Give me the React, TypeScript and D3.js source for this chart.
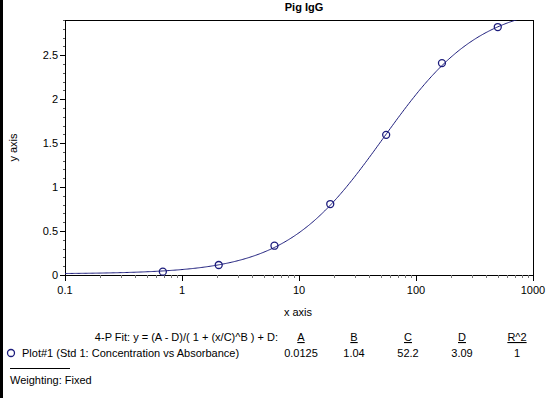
import React, { useEffect, useRef } from 'react'
import * as d3 from 'd3'

// standards (concentration, absorbance)
const concentrations = [0.686, 2.06, 6.17, 18.5, 55.6, 166.7, 500]
const absorbances = [0.038, 0.114, 0.333, 0.807, 1.594, 2.41, 2.82]

// 4-P fit parameters shown under the chart
const fitNames = ['A', 'B', 'C', 'D', 'R^2']
const fitLabels = ['0.0125', '1.04', '52.2', '3.09', '1']
const fitA = 0.0125
const fitB = 1.04
const fitC = 52.2
const fitD = 3.09

const xTicks = [0.1, 1, 10, 100, 1000]
const yTicks = [0, 0.5, 1, 1.5, 2, 2.5]

const W = 560
const H = 398
const margins = { left: 65, right: 27, top: 20, bottom: 123 }
const navy = '#1c1c7c'
const font = 'Arial, "Liberation Sans", sans-serif'

function fourPL(x: number) {
  return (fitA - fitD) / (1 + Math.pow(x / fitC, fitB)) + fitD
}

const App = () => {
  const ref = useRef<SVGSVGElement>(null)

  useEffect(() => {
    document.body.style.margin = '0'
    const svg = d3.select(ref.current)
    svg.selectAll('*').remove()

    const x0 = margins.left
    const x1 = W - margins.right
    const y0 = H - margins.bottom
    const y1 = margins.top

    const xScale = d3.scaleLog().domain([0.1, 1000]).range([x0, x1])
    const yScale = d3.scaleLinear().domain([0, 2.9]).range([y0, y1])

    // black strip at the left edge
    svg.append('rect').attr('x', 0).attr('y', 0).attr('width', 3).attr('height', H).attr('fill', '#000')

    svg.append('text')
      .attr('x', 304).attr('y', 11)
      .attr('text-anchor', 'middle')
      .style('font', `bold 11px ${font}`)
      .text('Pig IgG')

    // frame
    svg.append('rect')
      .attr('x', x0).attr('y', y1)
      .attr('width', x1 - x0).attr('height', y0 - y1)
      .attr('fill', 'none').attr('stroke', '#000').attr('stroke-width', 1)
      .attr('shape-rendering', 'crispEdges')

    // y axis
    const yAxis = svg.append('g')
    const yMinor = d3.range(0, 2.91, 0.1)
    yAxis.selectAll('line.minor').data(yMinor).join('line')
      .attr('x1', x0 - 2).attr('x2', x0)
      .attr('y1', d => Math.round(yScale(d)) + 0.5).attr('y2', d => Math.round(yScale(d)) + 0.5)
      .attr('stroke', '#555')
    yAxis.selectAll('line.major').data(yTicks).join('line')
      .attr('x1', x0 - 5).attr('x2', x0)
      .attr('y1', d => Math.round(yScale(d)) + 0.5).attr('y2', d => Math.round(yScale(d)) + 0.5)
      .attr('stroke', '#000')
    yAxis.selectAll('text').data(yTicks).join('text')
      .attr('x', x0 - 7).attr('y', d => yScale(d) + 4)
      .attr('text-anchor', 'end')
      .style('font', `11px ${font}`)
      .text(d => String(d))

    svg.append('text')
      .attr('transform', `translate(17, ${(y0 + y1) / 2}) rotate(-90)`)
      .attr('text-anchor', 'middle')
      .style('font', `11px ${font}`)
      .text('y axis')

    // x axis (log)
    const xAxis = svg.append('g')
    const xMinor: number[] = []
    for (let e = -1; e < 3; e++) {
      for (let m = 2; m <= 9; m++) xMinor.push(m * Math.pow(10, e))
    }
    xAxis.selectAll('line.minor').data(xMinor).join('line')
      .attr('x1', d => Math.round(xScale(d)) + 0.5).attr('x2', d => Math.round(xScale(d)) + 0.5)
      .attr('y1', y0).attr('y2', y0 + 3)
      .attr('stroke', '#777')
    xAxis.selectAll('line.major').data(xTicks).join('line')
      .attr('x1', d => Math.round(xScale(d)) + 0.5).attr('x2', d => Math.round(xScale(d)) + 0.5)
      .attr('y1', y0).attr('y2', y0 + 6)
      .attr('stroke', '#000')
    xAxis.selectAll('text').data(xTicks).join('text')
      .attr('x', d => xScale(d)).attr('y', y0 + 19)
      .attr('text-anchor', 'middle')
      .style('font', `11px ${font}`)
      .text(d => String(d))

    svg.append('text')
      .attr('x', (x0 + x1) / 2 - 1).attr('y', y0 + 41)
      .attr('text-anchor', 'middle')
      .style('font', `11px ${font}`)
      .text('x axis')

    // fit curve, clipped to the plot area
    svg.append('clipPath').attr('id', 'plotClip')
      .append('rect').attr('x', x0).attr('y', y1).attr('width', x1 - x0).attr('height', y0 - y1)

    const curveX = d3.range(0, 401).map(i => Math.pow(10, -1 + i / 100))
    const line = d3.line<number>()
      .x(d => xScale(d))
      .y(d => yScale(fourPL(d)))
    svg.append('path')
      .datum(curveX)
      .attr('d', line)
      .attr('clip-path', 'url(#plotClip)')
      .attr('fill', 'none')
      .attr('stroke', navy)
      .attr('stroke-width', 1)

    svg.append('g').selectAll('circle')
      .data(concentrations)
      .join('circle')
      .attr('cx', d => xScale(d))
      .attr('cy', (d, i) => yScale(absorbances[i]))
      .attr('r', 3.5)
      .attr('fill', 'none')
      .attr('stroke', navy)
      .attr('stroke-width', 1.3)

    // fit summary below the chart
    svg.append('text')
      .attr('x', 278).attr('y', 341)
      .attr('text-anchor', 'end')
      .style('font', `11px ${font}`)
      .text('4-P Fit: y = (A - D)/( 1 + (x/C)^B ) + D:')

    const colX = [301, 354, 408, 462, 517]
    svg.append('g').selectAll('text')
      .data(fitNames)
      .join('text')
      .attr('x', (d, i) => colX[i]).attr('y', 341)
      .attr('text-anchor', 'middle')
      .style('font', `11px ${font}`)
      .style('text-decoration', 'underline')
      .text(d => d)
    svg.append('g').selectAll('text')
      .data(fitLabels)
      .join('text')
      .attr('x', (d, i) => colX[i]).attr('y', 357)
      .attr('text-anchor', 'middle')
      .style('font', `11px ${font}`)
      .text(d => d)

    svg.append('circle')
      .attr('cx', 11).attr('cy', 353).attr('r', 3.5)
      .attr('fill', 'none').attr('stroke', navy).attr('stroke-width', 1.3)
    svg.append('text')
      .attr('x', 22).attr('y', 357)
      .style('font', `11px ${font}`)
      .text('Plot#1 (Std 1: Concentration vs Absorbance)')

    svg.append('line')
      .attr('x1', 10).attr('x2', 70).attr('y1', 368.5).attr('y2', 368.5)
      .attr('stroke', '#000')
    svg.append('text')
      .attr('x', 10).attr('y', 384)
      .style('font', `11px ${font}`)
      .text('Weighting: Fixed')
  }, [])

  return <svg ref={ref} width={W} height={H} style={{ display: 'block', background: '#fff' }} />
}

export default App
